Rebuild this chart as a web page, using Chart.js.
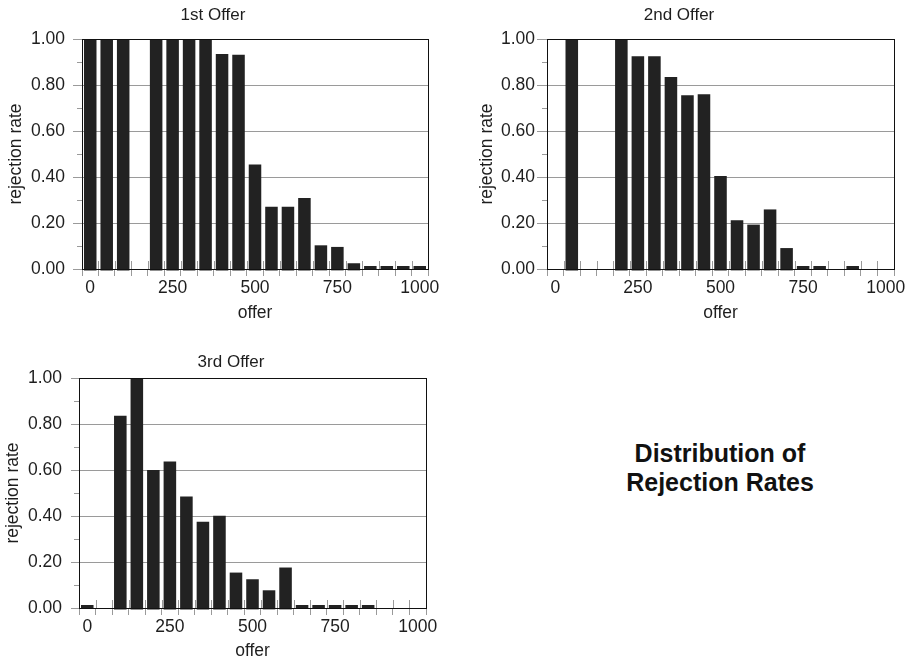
<!DOCTYPE html>
<html>
<head>
<meta charset="utf-8">
<title>Distribution of Rejection Rates</title>
<script src="https://cdn.jsdelivr.net/npm/chart.js@4.4.0/dist/chart.umd.min.js"></script>
<style>
  html, body { margin: 0; padding: 0; background: #fff; overflow: hidden; }
  body { width: 912px; height: 661px; position: relative; }
  canvas { position: absolute; display: block; }
  #caption {
    position: absolute; left: 600px; top: 439px; width: 240px;
    text-align: center; font: bold 25px/29px 'Liberation Sans', Arial, sans-serif; color: #111;
  }
</style>
</head>
<body>
<canvas id="offer1" width="446" height="330" style="left:0;top:0"></canvas>
<canvas id="offer2" width="452" height="330" style="left:460px;top:0"></canvas>
<canvas id="offer3" width="444" height="331" style="left:0;top:330px"></canvas>
<div id="caption">Distribution of<br>Rejection Rates</div>

<script>
'use strict';

// ─── data ───
const OFFERS = [0, 50, 100, 150, 200, 250, 300, 350, 400, 450, 500,
                550, 600, 650, 700, 750, 800, 850, 900, 950, 1000];
const X_TICK_LABELS = ['0', '250', '500', '750', '1000'];
const Y_MINOR_TICKS = [0.1, 0.3, 0.5, 0.7, 0.9];

const FIRST_OFFER  = [1.00, 1.00, 1.00, null, 1.00, 1.00, 1.00, 1.00, 0.935, 0.932, 0.454,
                      0.271, 0.271, 0.309, 0.103, 0.096, 0.025, 0, 0, 0, 0];
const SECOND_OFFER = [null, 1.00, null, null, 1.00, 0.925, 0.925, 0.835, 0.755, 0.760, 0.404,
                      0.212, 0.193, 0.259, 0.091, 0, 0, null, 0, null, null];
const THIRD_OFFER  = [0, null, 0.836, 1.00, 0.600, 0.637, 0.485, 0.375, 0.401, 0.154, 0.125,
                      0.077, 0.176, 0, 0, 0, 0, 0, null, null, null];

// ─── look ───
const FONT = "'Liberation Sans', Arial, sans-serif";
const TEXT = '#1e1e1e';
const GRID = '#9a9a9a';
const FRAME = '#111111';
const BAR = '#222222';

// per-panel placement inside its canvas
const PANELS = [
  { id: 'offer1', title: '1st Offer', data: FIRST_OFFER, titleX: 213, titleY: 15,
    top: 39, yWidth: 82, xHeight: 61, yTickLen: 9, yTickPad: 8, yTitlePad: 5.5, xTitlePad: 6 },
  { id: 'offer2', title: '2nd Offer', data: SECOND_OFFER, titleX: 219, titleY: 15,
    top: 39, yWidth: 87, xHeight: 61, yTickLen: 10, yTickPad: 2, yTitlePad: 17, xTitlePad: 6 },
  { id: 'offer3', title: '3rd Offer', data: THIRD_OFFER, titleX: 231, titleY: 32,
    top: 48, yWidth: 79, xHeight: 53, yTickLen: 8, yTickPad: 9, yTitlePad: 3, xTitlePad: -1 },
];

Chart.defaults.font.family = FONT;
Chart.defaults.color = TEXT;

// panel title, drawn where the original sits (not centred on the plot)
const panelTitle = {
  id: 'panelTitle',
  afterDraw(chart, args, opts) {
    const { ctx } = chart;
    ctx.save();
    ctx.font = `17px ${FONT}`;
    ctx.fillStyle = TEXT;
    ctx.textAlign = 'center';
    ctx.textBaseline = 'middle';
    ctx.fillText(opts.text, opts.x, opts.y);
    ctx.restore();
  }
};

// tick marks crossing the axes + the black box round the plot
const axisMarks = {
  id: 'axisMarks',
  beforeDatasetsDraw(chart) {
    const { ctx, chartArea: a, scales: { x, y } } = chart;
    const step = x.getPixelForTick(1) - x.getPixelForTick(0);
    ctx.save();
    ctx.strokeStyle = GRID;
    ctx.lineWidth = 1;
    ctx.beginPath();
    for (let i = 0; i <= OFFERS.length; i++) {
      const px = Math.round(x.getPixelForTick(0) - step / 2 + i * step) + 0.5;
      ctx.moveTo(px, a.bottom);
      ctx.lineTo(px, a.bottom - 8);
    }
    Y_MINOR_TICKS.forEach(v => {
      const py = Math.round(y.getPixelForValue(v)) + 0.5;
      ctx.moveTo(a.left - 5, py);
      ctx.lineTo(a.left + 1, py);
    });
    ctx.stroke();
    ctx.restore();
  },
  afterDatasetsDraw(chart) {
    const { ctx, chartArea: a } = chart;
    ctx.save();
    ctx.strokeStyle = FRAME;
    ctx.lineWidth = 1;
    ctx.strokeRect(Math.round(a.left) + 0.5, Math.round(a.top) + 0.5,
                   Math.round(a.right - a.left), Math.round(a.bottom - a.top));
    ctx.restore();
  }
};

function drawPanel(p) {
  const ctx = document.getElementById(p.id).getContext('2d');
  return new Chart(ctx, {
    type: 'bar',
    data: {
      labels: OFFERS.map(String),
      datasets: [{
        label: p.title,
        data: p.data,
        backgroundColor: BAR,
        borderWidth: 0,
        barPercentage: 0.76,
        categoryPercentage: 1.0,
        base: -0.006,
        minBarLength: 3,
        clip: 6,
      }],
    },
    options: {
      responsive: false,
      devicePixelRatio: 1,
      animation: false,
      layout: { padding: { top: p.top, right: 18, left: 0, bottom: 0 } },
      plugins: {
        legend: { display: false },
        tooltip: { enabled: false },
        panelTitle: { text: p.title, x: p.titleX, y: p.titleY },
      },
      scales: {
        x: {
          offset: true,
          grid: { offset: true, drawOnChartArea: false, tickLength: 7, tickColor: GRID },
          border: { color: FRAME, width: 1 },
          ticks: {
            autoSkip: false, maxRotation: 0, padding: 2,
            font: { size: 17.5 }, color: TEXT,
            callback: (v, i) => X_TICK_LABELS.includes(String(OFFERS[i])) ? String(OFFERS[i]) : '',
          },
          title: { display: true, text: 'offer', font: { size: 17.5 }, color: TEXT,
                   padding: { top: 0, bottom: p.xTitlePad } },
          afterFit: s => { s.height = p.xHeight; },
        },
        y: {
          min: 0,
          max: 1,
          grid: { color: GRID, tickLength: p.yTickLen, tickColor: GRID },
          border: { color: FRAME, width: 1 },
          ticks: {
            stepSize: 0.2, padding: p.yTickPad,
            font: { size: 17.5 }, color: TEXT,
            callback: v => Number(v).toFixed(2),
          },
          title: { display: true, text: 'rejection rate', font: { size: 17.5 }, color: TEXT,
                   padding: { top: p.yTitlePad, bottom: 0 } },
          afterFit: s => { s.width = p.yWidth; },
        },
      },
    },
    plugins: [panelTitle, axisMarks],
  });
}

PANELS.forEach(drawPanel);
</script>
</body>
</html>
